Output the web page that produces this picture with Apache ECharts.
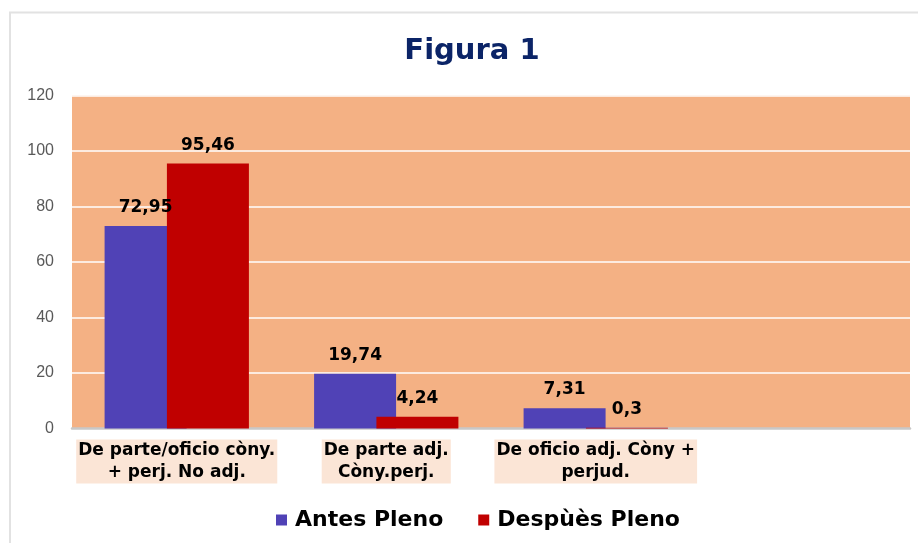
<!DOCTYPE html>
<html>
<head>
<meta charset="utf-8">
<script src="https://cdn.jsdelivr.net/npm/echarts@6/dist/echarts.min.js"></script>
<style>
html,body{margin:0;padding:0;background:#fff;}
#c{width:918px;height:543px;}
</style>
</head>
<body>
<div id="c"></div>
<script>
const categories = ['De parte/oficio còny.\n+ perj. No adj.', 'De parte adj.\nCòny.perj.', 'De oficio adj. Còny +\nperjud.', ''];
const antesPleno = [72.95, 19.74, 7.31, null];
const despuesPleno = [95.46, 4.24, 0.3, null];
const seriesNames = ['Antes Pleno', 'Despùès Pleno'];
const yTicks = {min: 0, max: 120, interval: 20};

const chart = echarts.init(document.getElementById('c'), null, {renderer: 'canvas'});
const fmt = p => (p.value === null || p.value === undefined) ? '' : String(p.value).replace('.', ',');
const labelStyle = {
  show: true, position: 'top', distance: 10,
  fontFamily: 'DejaVu Sans', fontWeight: 'bold', fontSize: 17, color: '#000',
  formatter: fmt
};
chart.setOption({
  animation: false,
  backgroundColor: '#fff',
  graphic: [{
    type: 'rect', shape: {x: 10, y: 12.5, width: 930, height: 560},
    style: {fill: 'none', stroke: '#E2E2E2', lineWidth: 2}, silent: true, z: -10
  }],
  title: {
    text: 'Figura 1', left: 467, textAlign: 'center', top: 32,
    textStyle: {fontFamily: 'DejaVu Sans', fontWeight: 'bold', fontSize: 29, color: '#0B2467'}
  },
  legend: {
    top: 504, left: 271,
    itemWidth: 11, itemHeight: 11, itemGap: 35, icon: 'rect',
    textStyle: {fontFamily: 'DejaVu Sans', fontWeight: 'bold', fontSize: 22, color: '#000', padding: [0, 0, 0, 3]},
    data: seriesNames
  },
  grid: {left: 72, right: 8, top: 95.5, bottom: 114.5, show: true, backgroundColor: '#F4B184', borderWidth: 0},
  xAxis: {
    type: 'category', data: categories,
    axisLine: {lineStyle: {color: '#C8C8C8', width: 2.5}},
    axisTick: {show: false},
    axisLabel: {
      interval: 0, margin: 11,
      fontFamily: 'DejaVu Sans', fontWeight: 'bold', fontSize: 17, color: '#000',
      lineHeight: 22, backgroundColor: '#FBE5D6', padding: [0, 2, 0, 2], align: 'center'
    }
  },
  yAxis: {
    type: 'value', min: yTicks.min, max: yTicks.max, interval: yTicks.interval,
    axisLine: {show: false}, axisTick: {show: false},
    axisLabel: {fontFamily: 'Liberation Sans', fontSize: 16, color: '#595959', margin: 18},
    splitLine: {lineStyle: {color: '#FFFFFF', width: 1.5}}
  },
  series: [
    {name: seriesNames[0], type: 'bar', data: antesPleno, barWidth: 82, barGap: '-24%',
     itemStyle: {color: '#5042B6'}, label: labelStyle},
    {name: seriesNames[1], type: 'bar', data: despuesPleno, barWidth: 82, barGap: '-24%',
     itemStyle: {color: '#C00000'}, label: labelStyle}
  ]
});
</script>
</body>
</html>
